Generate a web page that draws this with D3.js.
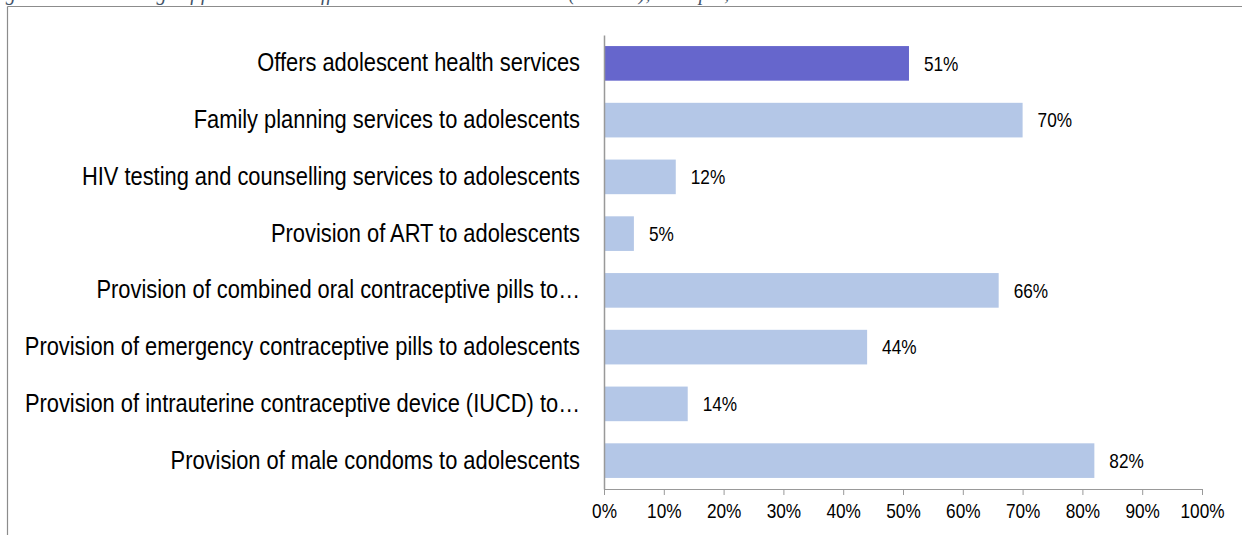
<!DOCTYPE html>
<html>
<head>
<meta charset="utf-8">
<script src="https://cdn.jsdelivr.net/npm/d3@7"></script>
<style>
  html, body { margin: 0; padding: 0; background: #fff; }
  svg { display: block; }
  .lbl { font-family: "Liberation Sans", Arial, sans-serif; }
</style>
</head>
<body>
<svg id="chart" width="1242" height="535"></svg>
<script>
const categories = [
  "Offers adolescent health services",
  "Family planning services to adolescents",
  "HIV testing and counselling services to adolescents",
  "Provision of ART to adolescents",
  "Provision of combined oral contraceptive pills to\u2026",
  "Provision of emergency contraceptive pills to adolescents",
  "Provision of intrauterine contraceptive device (IUCD) to\u2026",
  "Provision of male condoms to adolescents"
];
const values = [51, 70, 12, 5, 66, 44, 14, 82];
const highlighted = [true, false, false, false, false, false, false, false];
const tickValues = [0, 10, 20, 30, 40, 50, 60, 70, 80, 90, 100];
const tickLabels = ["0%", "10%", "20%", "30%", "40%", "50%", "60%", "70%", "80%", "90%", "100%"];
const caption = "Figure 3-3: Percentage of facilities that offer adolescent health services (n = 226), Ethiopia, 2016";

const svg = d3.select("#chart");
const W = 1242, H = 535;
const margin = { left: 604, right: 40, top: 35, bottom: 46 };
const catScale = 0.875;   // condensed look of the category labels
const numScale = 0.82;    // condensed look of the numbers

const x = d3.scaleLinear().domain([0, 100]).range([margin.left, 1202]);
const y = d3.scaleBand().domain(categories).range([margin.top, H - margin.bottom]).paddingInner(0.39).paddingOuter(0.195);

// caption (mostly clipped at top)
svg.append("text")
  .attr("x", -12).attr("y", 0)
  .attr("font-family", "Liberation Serif, Times New Roman, serif")
  .attr("font-style", "italic")
  .attr("font-size", 20)
  .attr("fill", "#44546a")
  .text(caption);

// frame
svg.append("line").attr("x1", 7.5).attr("x2", W).attr("y1", 6.5).attr("y2", 6.5).attr("stroke", "#8c8c8c").attr("stroke-width", 1.2);
svg.append("line").attr("x1", 7.5).attr("x2", 7.5).attr("y1", 6.5).attr("y2", H).attr("stroke", "#8c8c8c").attr("stroke-width", 1.2);

// bars
svg.append("g").selectAll("rect")
  .data(values)
  .join("rect")
  .attr("x", x(0))
  .attr("y", (d, i) => y(categories[i]))
  .attr("width", d => x(d) - x(0))
  .attr("height", y.bandwidth())
  .attr("fill", (d, i) => highlighted[i] ? "#6666cc" : "#b4c7e7");

// value labels
svg.append("g").selectAll("text")
  .data(values)
  .join("text")
  .attr("class", "lbl")
  .attr("transform", (d, i) => `translate(${x(d) + 15},${y(categories[i]) + y.bandwidth() / 2}) scale(${numScale},1)`)
  .attr("dy", "0.35em")
  .attr("font-size", 21)
  .attr("fill", "#000")
  .text(d => d + "%");

// x axis
const xAxis = d3.axisBottom(x).tickValues(tickValues).tickFormat((d, i) => tickLabels[i]).tickSize(6).tickSizeOuter(0);
const gx = svg.append("g").attr("transform", `translate(0,${H - margin.bottom})`).call(xAxis);
gx.select(".domain").attr("stroke", "#999");
gx.selectAll(".tick line").attr("stroke", "#999");
gx.selectAll(".tick text")
  .attr("class", "lbl").attr("font-size", 21).attr("fill", "#000")
  .attr("y", 9 / 1).attr("dy", "0.95em")
  .attr("transform", `scale(${numScale},1)`);

// y axis
const pad = 24;
const yAxis = d3.axisLeft(y).tickSize(0).tickPadding(pad);
const gy = svg.append("g").attr("transform", `translate(${x(0)},0)`).call(yAxis);
gy.select(".domain").attr("stroke", "#999").attr("stroke-width", 1.5);
gy.selectAll(".tick text")
  .attr("class", "lbl").attr("font-size", 25).attr("fill", "#000")
  .attr("x", -pad / catScale)
  .attr("transform", `scale(${catScale},1)`);
</script>
</body>
</html>
